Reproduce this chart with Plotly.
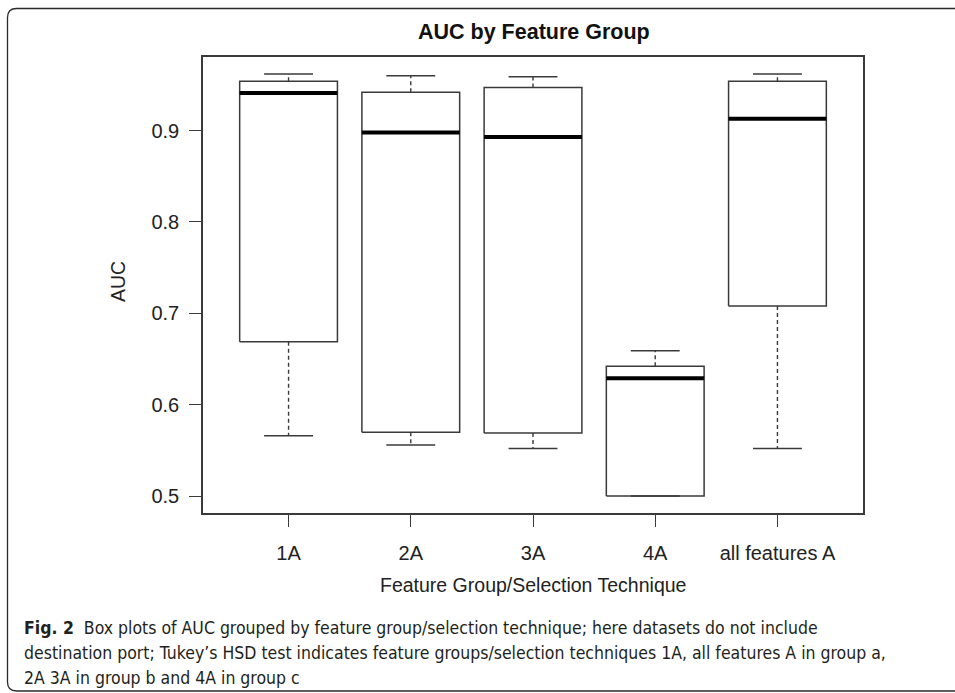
import plotly.graph_objects as go

# ---- data ----
categories = ["1A", "2A", "3A", "4A", "all features A"]
lower_whisker = [0.566, 0.556, 0.552, 0.500, 0.552]
q1 = [0.669, 0.570, 0.569, 0.500, 0.708]
median = [0.941, 0.898, 0.893, 0.629, 0.913]
q3 = [0.954, 0.942, 0.947, 0.642, 0.954]
upper_whisker = [0.962, 0.960, 0.959, 0.659, 0.962]
y_ticks = [0.5, 0.6, 0.7, 0.8, 0.9]

title_text = "AUC by Feature Group"
x_title = "Feature Group/Selection Technique"
y_title = "AUC"
caption_lines = [
    "<b>Fig. 2</b>  Box plots of AUC grouped by feature group/selection technique; here datasets do not include",
    "destination port; Tukey\u2019s HSD test indicates feature groups/selection techniques 1A, all features A in group a,",
    "2A 3A in group b and 4A in group c",
]

# ---- geometry ----
W, H = 955, 693
L, R, T, B = 203, 92, 57, 180
PW, PH = W - L - R, H - T - B
BOXW = 0.4   # half box width (R boxwex 0.8)
CAPW = 0.2   # half staple width

def px_x(p):
    return (p - L) / PW

def px_y(p):
    return (H - B - p) / PH

pos = list(range(1, len(categories) + 1))

# build line paths from data
bx, by, mx, my, wx, wy, cx, cy = [], [], [], [], [], [], [], []
for i, p in enumerate(pos):
    bx += [p - BOXW, p + BOXW, p + BOXW, p - BOXW, p - BOXW, None]
    by += [q1[i], q1[i], q3[i], q3[i], q1[i], None]
    mx += [p - BOXW, p + BOXW, None]
    my += [median[i], median[i], None]
    wx += [p, p, None, p, p, None]
    wy += [q3[i], upper_whisker[i], None, q1[i], lower_whisker[i], None]
    cx += [p - CAPW, p + CAPW, None, p - CAPW, p + CAPW, None]
    cy += [upper_whisker[i], upper_whisker[i], None, lower_whisker[i], lower_whisker[i], None]

line_col = "#3a3a3a"
fig = go.Figure()
fig.add_trace(go.Scatter(x=wx, y=wy, mode="lines", line=dict(color=line_col, width=1.4, dash="4px,3px"), hoverinfo="skip"))
fig.add_trace(go.Scatter(x=cx, y=cy, mode="lines", line=dict(color=line_col, width=1.5), hoverinfo="skip"))
fig.add_trace(go.Scatter(x=bx, y=by, mode="lines", line=dict(color=line_col, width=1.5), hoverinfo="skip"))
fig.add_trace(go.Scatter(x=mx, y=my, mode="lines", line=dict(color="#000000", width=4), hoverinfo="skip"))

lo = min(lower_whisker + q1)
hi = max(upper_whisker + q3)
pad = 0.04 * (hi - lo)
n = len(categories)
xpad = 0.04 * n

font_main = "Liberation Sans, Arial, Helvetica, sans-serif"
font_cap = "Liberation Sans Narrow, Arial Narrow, DejaVu Sans Condensed, sans-serif"

fig.update_layout(
    width=W, height=H,
    margin=dict(l=L, r=R, t=T, b=B, pad=0),
    paper_bgcolor="white", plot_bgcolor="white",
    showlegend=False,
    font=dict(family=font_main, size=18, color="#222222"),
    xaxis=dict(
        range=[0.5 - xpad, n + 0.5 + xpad],
        tickmode="array", tickvals=pos, ticktext=categories,
        ticks="outside", ticklen=12, tickwidth=1.3, tickcolor=line_col,
        showline=True, linecolor=line_col, linewidth=1.5, mirror=True,
        showgrid=False, zeroline=False,
        tickfont=dict(size=20, color="#222222"),
        ticklabelstandoff=9,
    ),
    yaxis=dict(
        range=[lo - pad, hi + pad],
        tickmode="array", tickvals=y_ticks, ticktext=[f"{v:.1f}" for v in y_ticks],
        ticks="outside", ticklen=12, tickwidth=1.3, tickcolor=line_col,
        showline=True, linecolor=line_col, linewidth=1.5, mirror=True,
        showgrid=False, zeroline=False,
        tickfont=dict(size=20, color="#222222"),
        ticklabelstandoff=6,
    ),
)

annotations = [
    dict(text="<b>" + title_text + "</b>", x=px_x(534), y=px_y(32), xref="paper", yref="paper",
         xanchor="center", yanchor="middle", showarrow=False, font=dict(size=21.5, color="#111111")),
    dict(text=x_title, x=px_x(533), y=px_y(585), xref="paper", yref="paper",
         xanchor="center", yanchor="middle", showarrow=False, font=dict(size=19.5, color="#222222")),
    dict(text=y_title, x=px_x(118), y=px_y(282), xref="paper", yref="paper", textangle=-90,
         xanchor="center", yanchor="middle", showarrow=False, font=dict(size=19.5, color="#222222")),
]
cap_y = [628, 653, 678]
for txt, yy in zip(caption_lines, cap_y):
    annotations.append(dict(text=txt, x=px_x(22), y=px_y(yy), xref="paper", yref="paper",
                            xanchor="left", yanchor="middle", showarrow=False, align="left",
                            font=dict(family=font_cap, size=17.5, color="#231f20")))
fig.update_layout(annotations=annotations)

# outer rounded frame (decoration, pixel placed)
x0, x1, y0, y1, r = 7.5, 975, 8.5, 691, 9
def P(xp, yp):
    return f"{px_x(xp):.5f},{px_y(yp):.5f}"
path = (f"M {P(x1, y0)} L {P(x0 + r, y0)} Q {P(x0, y0)} {P(x0, y0 + r)} "
        f"L {P(x0, y1 - r)} Q {P(x0, y1)} {P(x0 + r, y1)} L {P(x1, y1)}")
fig.add_shape(type="path", path=path, xref="paper", yref="paper",
              line=dict(color="#2a2a2a", width=1.3), layer="above")

fig.write_html("out.html")
